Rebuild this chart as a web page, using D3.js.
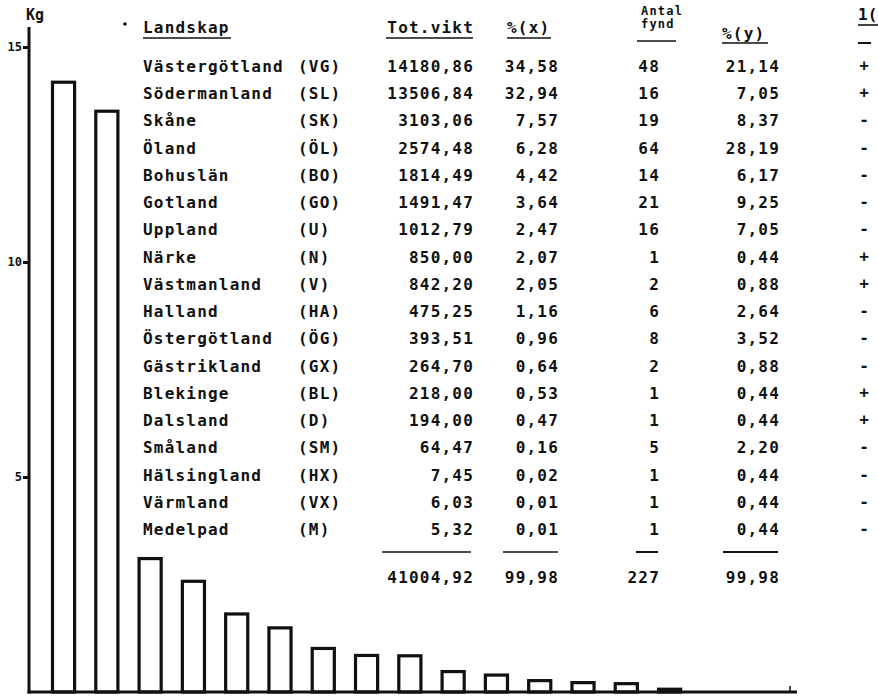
<!DOCTYPE html>
<html>
<head>
<meta charset="utf-8">
<script src="https://cdn.jsdelivr.net/npm/d3@7"></script>
<style>
  body { margin: 0; background: #fff; }
  text { font-family: "DejaVu Sans Mono", monospace; font-weight: bold; fill: #111; }
</style>
</head>
<body>
<svg id="chart" width="878" height="699"></svg>
<script>
// Table data
var landskap = ["Västergötland", "Södermanland", "Skåne", "Öland", "Bohuslän", "Gotland",
  "Uppland", "Närke", "Västmanland", "Halland", "Östergötland", "Gästrikland",
  "Blekinge", "Dalsland", "Småland", "Hälsingland", "Värmland", "Medelpad"];
var codes = ["VG", "SL", "SK", "ÖL", "BO", "GO", "U", "N", "V", "HA", "ÖG", "GX",
  "BL", "D", "SM", "HX", "VX", "M"];
var totVikt = [14180.86, 13506.84, 3103.06, 2574.48, 1814.49, 1491.47, 1012.79, 850.00,
  842.20, 475.25, 393.51, 264.70, 218.00, 194.00, 64.47, 7.45, 6.03, 5.32];
var pctX = [34.58, 32.94, 7.57, 6.28, 4.42, 3.64, 2.47, 2.07, 2.05, 1.16, 0.96, 0.64,
  0.53, 0.47, 0.16, 0.02, 0.01, 0.01];
var antalFynd = [48, 16, 19, 64, 14, 21, 16, 1, 2, 6, 8, 2, 1, 1, 5, 1, 1, 1];
var pctY = [21.14, 7.05, 8.37, 28.19, 6.17, 9.25, 7.05, 0.44, 0.88, 2.64, 3.52, 0.88,
  0.44, 0.44, 2.20, 0.44, 0.44, 0.44];
var signs = ["+", "+", "-", "-", "-", "-", "-", "+", "+", "-", "-", "-", "+", "+", "-", "-", "-", "-"];
var totalsRow = [41004.92, 99.98, 227, 99.98];
var yTicks = [5000, 10000, 15000];

var svg = d3.select("#chart");
var baseY = 692;   // bottom line of the bars
var axisX = 29;    // the Kg axis

// comma as decimal sign, like the typewritten table
var fmt2 = function(v) { return d3.format(".2f")(v).replace(".", ","); };

// Scales
var yScale = d3.scaleLinear().domain([0, 15000]).range([baseY, 47]);
var xScale = d3.scaleBand().domain(codes).range([51, 812]).paddingInner(0.42).paddingOuter(0);
var rowY = d3.scalePoint().domain(codes).range([72, 535]);

// Bars: open boxes, thick outline. The last few are too low to show above the base line.
var barCodes = codes.filter(function(d, i) { return baseY - yScale(totVikt[i]) >= 1; });
svg.selectAll(".bar")
  .data(barCodes)
  .enter().append("rect")
  .attr("class", "bar")
  .attr("x", function(d) { return xScale(d) + 1.5; })
  .attr("y", function(d) { return yScale(totVikt[codes.indexOf(d)]); })
  .attr("width", xScale.bandwidth() - 3)
  .attr("height", function(d) { return baseY - yScale(totVikt[codes.indexOf(d)]); })
  .style("fill", "#fff")
  .style("stroke", "#111")
  .style("stroke-width", 3.2);

// Vertical axis line
svg.append("line")
  .attr("x1", axisX).attr("y1", 27)
  .attr("x2", axisX).attr("y2", baseY + 1.5)
  .style("stroke", "#111").style("stroke-width", 3);

// Ticks on the Kg axis (thousands)
var yAxis = svg.append("g")
  .attr("transform", "translate(" + axisX + ",0)")
  .call(d3.axisLeft(yScale).tickValues(yTicks).tickSize(6).tickSizeOuter(0)
    .tickFormat(function(d) { return d / 1000; }));
yAxis.select(".domain").remove();
yAxis.selectAll(".tick line").style("stroke", "#111").style("stroke-width", 3);
yAxis.selectAll(".tick text")
  .attr("x", -7)
  .style("font-family", "'DejaVu Sans Mono', monospace")
  .style("font-weight", "bold")
  .style("font-size", "12px")
  .style("fill", "#111");

svg.append("text")
  .attr("x", 26).attr("y", 20)
  .style("font-size", "15px")
  .text("Kg");

// Horizontal base line with small end mark
svg.append("line")
  .attr("x1", axisX - 1.5).attr("y1", baseY)
  .attr("x2", 797).attr("y2", baseY)
  .style("stroke", "#111").style("stroke-width", 3);
svg.append("line")
  .attr("x1", 790).attr("y1", baseY)
  .attr("x2", 790).attr("y2", baseY - 6)
  .style("stroke", "#111").style("stroke-width", 1.5);

// ---- Table ----
var fs = "16px", ls = "1.2px";
var col = { name: 143, code: 298, vikt: 474, px: 559, fynd: 660, py: 780, sign: 864 };

function header(x, y, label, anchor, size) {
  return svg.append("text")
    .attr("x", x).attr("y", y)
    .attr("text-anchor", anchor || "start")
    .style("font-size", size || fs)
    .style("letter-spacing", ls)
    .text(label);
}
function underline(x1, x2, y, w) {
  svg.append("line")
    .attr("x1", x1).attr("x2", x2).attr("y1", y).attr("y2", y)
    .style("stroke", "#111").style("stroke-width", w || 1.6);
}

svg.append("circle").attr("cx", 125).attr("cy", 24).attr("r", 1.8).style("fill", "#111");
header(col.name, 33, "Landskap");
underline(143, 231, 38);
header(col.vikt, 33, "Tot.vikt", "end");
underline(386, 473, 38);
header(507, 33, "%(x)");
underline(507, 551, 38);
header(641, 15, "Antal", "start", "12px");
header(641, 28, "fynd", "start", "12px");
underline(637, 676, 41);
header(722, 39, "%(y)");
underline(722, 768, 43);
header(858, 20, "1(").style("letter-spacing", "0px");
underline(858, 878, 25);
underline(858, 871, 43, 2);

var rows = svg.selectAll(".row")
  .data(codes)
  .enter().append("g")
  .attr("class", "row")
  .attr("transform", function(d) { return "translate(0," + rowY(d) + ")"; })
  .style("font-size", fs)
  .style("letter-spacing", ls);

rows.append("text").attr("x", col.name).text(function(d, i) { return landskap[i]; });
rows.append("text").attr("x", col.code).text(function(d) { return "(" + d + ")"; });
rows.append("text").attr("x", col.vikt).attr("text-anchor", "end")
  .text(function(d, i) { return fmt2(totVikt[i]); });
rows.append("text").attr("x", col.px).attr("text-anchor", "end")
  .text(function(d, i) { return fmt2(pctX[i]); });
rows.append("text").attr("x", col.fynd).attr("text-anchor", "end")
  .text(function(d, i) { return antalFynd[i]; });
rows.append("text").attr("x", col.py).attr("text-anchor", "end")
  .text(function(d, i) { return fmt2(pctY[i]); });
rows.append("text").attr("x", col.sign).attr("y", -1).attr("text-anchor", "middle")
  .style("letter-spacing", "0px")
  .text(function(d, i) { return signs[i]; });

// Sum rules and totals
underline(382, 471, 552);
underline(503, 558, 552);
underline(636, 658, 552, 2);
underline(723, 778, 552, 2);

var totalCols = [col.vikt, col.px, col.fynd, col.py];
svg.selectAll(".total")
  .data(totalsRow)
  .enter().append("text")
  .attr("class", "total")
  .attr("x", function(d, i) { return totalCols[i]; })
  .attr("y", 583)
  .attr("text-anchor", "end")
  .style("font-size", fs)
  .style("letter-spacing", ls)
  .text(function(d, i) { return i === 2 ? d : fmt2(d); });
</script>
</body>
</html>
